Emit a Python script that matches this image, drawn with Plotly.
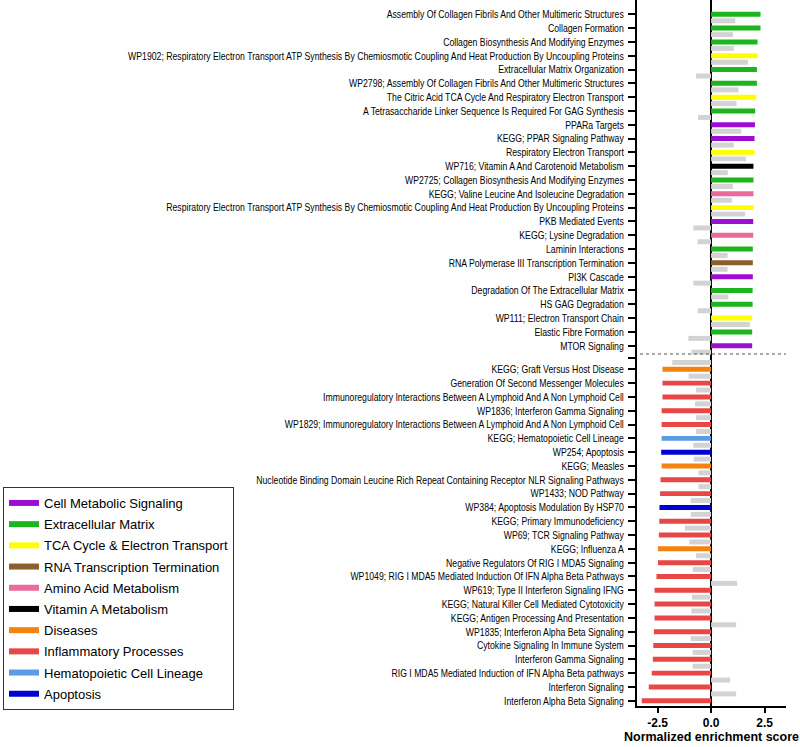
import plotly.graph_objects as go

# ---------------- data ----------------
up_labels = [
    "Assembly Of Collagen Fibrils And Other Multimeric Structures",
    "Collagen Formation",
    "Collagen Biosynthesis And Modifying Enzymes",
    "WP1902; Respiratory Electron Transport ATP Synthesis By Chemiosmotic Coupling And Heat Production By Uncoupling Proteins",
    "Extracellular Matrix Organization",
    "WP2798; Assembly Of Collagen Fibrils And Other Multimeric Structures",
    "The Citric Acid TCA Cycle And Respiratory Electron Transport",
    "A Tetrasaccharide Linker Sequence Is Required For GAG Synthesis",
    "PPARa Targets",
    "KEGG; PPAR Signaling Pathway",
    "Respiratory Electron Transport",
    "WP716; Vitamin A And Carotenoid Metabolism",
    "WP2725; Collagen Biosynthesis And Modifying Enzymes",
    "KEGG; Valine Leucine And Isoleucine Degradation",
    "Respiratory Electron Transport ATP Synthesis By Chemiosmotic Coupling And Heat Production By Uncoupling Proteins",
    "PKB Mediated Events",
    "KEGG; Lysine Degradation",
    "Laminin Interactions",
    "RNA Polymerase III Transcription Termination",
    "PI3K Cascade",
    "Degradation Of The Extracellular Matrix",
    "HS GAG Degradation",
    "WP111; Electron Transport Chain",
    "Elastic Fibre Formation",
    "MTOR Signaling",
]
up_nes = [2.31, 2.31, 2.17, 2.17, 2.14, 2.14, 2.11, 2.06, 2.05, 2.03, 2.03, 1.98, 1.98,
          1.98, 1.98, 1.97, 1.97, 1.95, 1.95, 1.95, 1.94, 1.94, 1.92, 1.92, 1.92]
up_gray = [1.13, 1.02, 1.06, 1.72, -0.70, 1.28, 1.19, -0.61, 1.41, 1.06, 1.63, 0.78, 1.02,
           0.97, 1.59, -0.83, -0.63, 0.77, 0.77, -0.83, 0.81, -0.63, 1.81, -1.06, -0.92]
up_class = ["ECM", "ECM", "ECM", "TCA", "ECM", "ECM", "TCA", "ECM", "CMS", "CMS", "TCA", "VitA", "ECM",
            "AA", "TCA", "CMS", "AA", "ECM", "RNA", "CMS", "ECM", "ECM", "TCA", "ECM", "CMS"]

down_labels = [
    "KEGG; Graft Versus Host Disease",
    "Generation Of Second Messenger Molecules",
    "Immunoregulatory Interactions Between A Lymphoid And A Non Lymphoid Cell",
    "WP1836; Interferon Gamma Signaling",
    "WP1829; Immunoregulatory Interactions Between A Lymphoid And A Non Lymphoid Cell",
    "KEGG; Hematopoietic Cell Lineage",
    "WP254; Apoptosis",
    "KEGG; Measles",
    "Nucleotide Binding Domain Leucine Rich Repeat Containing Receptor NLR Signaling Pathways",
    "WP1433; NOD Pathway",
    "WP384; Apoptosis Modulation By HSP70",
    "KEGG; Primary Immunodeficiency",
    "WP69; TCR Signaling Pathway",
    "KEGG; Influenza A",
    "Negative Regulators Of RIG I MDA5 Signaling",
    "WP1049; RIG I MDA5 Mediated Induction Of IFN Alpha Beta Pathways",
    "WP619; Type II Interferon Signaling IFNG",
    "KEGG; Natural Killer Cell Mediated Cytotoxicity",
    "KEGG; Antigen Processing And Presentation",
    "WP1835; Interferon Alpha Beta Signaling",
    "Cytokine Signaling In Immune System",
    "Interferon Gamma Signaling",
    "RIG I MDA5 Mediated Induction of IFN Alpha Beta pathways",
    "Interferon Signaling",
    "Interferon Alpha Beta Signaling",
]
down_nes = [-2.27, -2.27, -2.27, -2.31, -2.31, -2.31, -2.33, -2.31, -2.36, -2.38, -2.41, -2.42, -2.44,
            -2.48, -2.48, -2.55, -2.64, -2.64, -2.64, -2.67, -2.70, -2.72, -2.77, -2.91, -3.24]
down_gray = [-1.81, -1.05, -0.70, -0.75, -0.70, -0.70, -0.83, -0.81, -0.59, -0.59, -0.95, -0.95, -1.22,
             -1.02, -0.70, -0.86, 1.22, -0.89, -0.92, 1.17, -0.95, -0.86, -0.86, 0.89, 1.17]
down_class = ["DIS", "INF", "INF", "INF", "INF", "HEM", "APO", "DIS", "INF", "INF", "APO", "INF", "INF",
              "DIS", "INF", "INF", "INF", "INF", "INF", "INF", "INF", "INF", "INF", "INF", "INF"]

class_keys = ["CMS", "ECM", "TCA", "RNA", "AA", "VitA", "DIS", "INF", "HEM", "APO"]
class_names = ["Cell Metabolic Signaling", "Extracellular Matrix", "TCA Cycle & Electron Transport",
               "RNA Transcription Termination", "Amino Acid Metabolism", "Vitamin A Metabolism",
               "Diseases", "Inflammatory Processes", "Hematopoietic Cell Lineage", "Apoptosis"]
class_colors = ["#9b0fd2", "#1db51d", "#ffff00", "#8b5e2b", "#ea6a9a", "#000000",
                "#f5820f", "#e94646", "#5b9be6", "#0000d2"]
gray_color = "#d3d3d3"

# ---------------- layout helpers ----------------
cmap = dict(zip(class_keys, class_colors))
n_up = len(up_labels)
gap_start = 25.71
up_pos = [float(i) for i in range(n_up)]
down_pos = [gap_start + i for i in range(len(down_labels))]
gap_tick = (up_pos[-1] + down_pos[0]) / 2
bw = 0.36
off_up = 0.47
off_down = -0.5

fig = go.Figure()

# colored bars
fig.add_trace(go.Bar(
    x=up_nes + down_nes, y=up_pos + down_pos, orientation="h", width=bw,
    marker=dict(color=[cmap[c] for c in up_class + down_class], line=dict(width=0)),
    showlegend=False, hoverinfo="x"))
# gray bars
fig.add_trace(go.Bar(
    x=up_gray + down_gray,
    y=[p + off_up for p in up_pos] + [p + off_down for p in down_pos],
    orientation="h", width=bw,
    marker=dict(color=gray_color, line=dict(width=0)),
    showlegend=False, hoverinfo="x"))

# legend entries
for k, name, col in zip(class_keys, class_names, class_colors):
    fig.add_trace(go.Scatter(x=[0], y=[0], mode="lines", name=name, legendgroup=k,
                             line=dict(color=col, width=6), hoverinfo="skip"))

tickvals = up_pos + [gap_tick] + down_pos
ticktext = up_labels + [""] + down_labels

fig.add_shape(type="line", xref="paper", yref="y", x0=0.02, x1=1.0, y0=24.6, y1=24.6,
              line=dict(color="#555555", width=1.2, dash="dot"))

fig.update_layout(
    width=800, height=747,
    margin=dict(l=637, r=14, t=0, b=41, autoexpand=False),
    paper_bgcolor="white", plot_bgcolor="white",
    barmode="overlay",
    font=dict(family="Liberation Sans, Arial, sans-serif", color="black"),
    legend=dict(
        xref="container", yref="container", x=3 / 800, y=1 - 487 / 747,
        xanchor="left", yanchor="top",
        bordercolor="#333333", borderwidth=1, bgcolor="white",
        font=dict(family="Liberation Sans, Arial, sans-serif", size=13, color="black"),
        tracegroupgap=1.3, itemwidth=30,
    ),
)
fig.update_yaxes(
    range=[50.09, -1.035], tickvals=tickvals, ticktext=ticktext, automargin=False,
    showline=True, linecolor="black", linewidth=2, ticks="outside", ticklen=7,
    tickwidth=1.5, tickcolor="black", showgrid=False, zeroline=False,
    tickfont=dict(size=11, family="Liberation Sans, Arial, sans-serif"),
    ticklabelstandoff=2,
)
fig.update_xaxes(
    range=[-3.46, 3.5], tickvals=[-2.5, 0, 2.5], ticktext=["-2.5", "0.0", "2.5"], automargin=False,
    showline=True, linecolor="black", linewidth=2, ticks="outside", ticklen=5,
    tickwidth=1.5, tickcolor="black", showgrid=False,
    zeroline=True, zerolinecolor="black", zerolinewidth=2,
    tickfont=dict(size=12, family="Liberation Sans, Arial, sans-serif", weight="bold"),
    title=dict(text="<b>Normalized enrichment score</b>", standoff=0,
               font=dict(size=12.5, family="Liberation Sans, Arial, sans-serif")),
    layer="above traces",
)

# remove the page's default body margin and condense the long category labels
# horizontally (the reference uses a narrow typeface)
squeeze_js = """
document.body.style.margin = '0';
document.body.style.overflow = 'hidden';
var gd = document.getElementById('{plot_id}');
function squeezeLabels(){
  var nodes = gd.querySelectorAll('g.ytick text');
  nodes.forEach(function(t){
    if (t.getAttribute('data-sq')) return;
    var w = t.getComputedTextLength();
    if (w > 0) {
      t.setAttribute('textLength', (w * 0.79).toFixed(2));
      t.setAttribute('lengthAdjust', 'spacingAndGlyphs');
      t.setAttribute('data-sq', '1');
    }
  });
}
squeezeLabels();
if (gd.on) { gd.on('plotly_afterplot', squeezeLabels); }
"""

fig.write_html("out.html", post_script=squeeze_js, config={"displayModeBar": False})
